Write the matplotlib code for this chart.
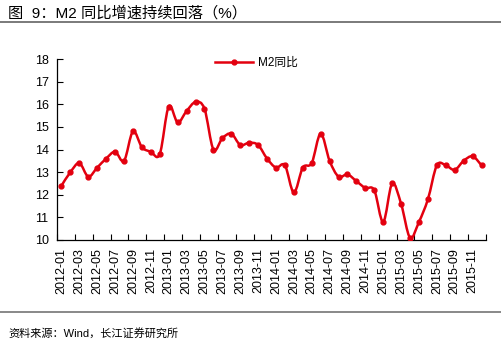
import matplotlib
matplotlib.use("Agg")
import matplotlib.pyplot as plt
from matplotlib.path import Path
from matplotlib.patches import PathPatch
import numpy as np

plt.rcParams['font.family'] = ['Liberation Sans', 'Noto Sans CJK SC', 'DejaVu Sans']

months = [f"{y}-{m:02d}" for y in range(2012, 2016) for m in range(1, 13)]
m2_yoy = [12.4, 13.0, 13.4, 12.8, 13.2, 13.6, 13.9, 13.5, 14.8, 14.1, 13.9, 13.8,
          15.9, 15.2, 15.7, 16.1, 15.8, 14.0, 14.5, 14.7, 14.2, 14.3, 14.2, 13.6,
          13.2, 13.3, 12.1, 13.2, 13.4, 14.7, 13.5, 12.8, 12.9, 12.6, 12.3, 12.2,
          10.8, 12.5, 11.6, 10.1, 10.8, 11.8, 13.3, 13.3, 13.1, 13.5, 13.7, 13.3]
series_name = "M2同比"
title = "图  9：M2 同比增速持续回落（%）"
source = "资料来源：Wind，长江证券研究所"
y_ticks = list(range(10, 19))

RED = "#E3000F"

fig = plt.figure(figsize=(5.02, 3.43), dpi=100)
ax = fig.add_axes([57/502, 1-240/343, (486-57)/502, (240-59)/343])

x = np.arange(len(m2_yoy))
y = np.array(m2_yoy, dtype=float)

# smooth line (Catmull-Rom as cubic Bezier path through data points)
pts = np.column_stack([x, y])
verts = [tuple(pts[0])]
codes = [Path.MOVETO]
n = len(pts)
for i in range(n - 1):
    p0 = pts[i - 1] if i > 0 else pts[i]
    p1 = pts[i]
    p2 = pts[i + 1]
    p3 = pts[i + 2] if i + 2 < n else pts[i + 1]
    c1 = p1 + (p2 - p0) / 6.0
    c2 = p2 - (p3 - p1) / 6.0
    verts += [tuple(c1), tuple(c2), tuple(p2)]
    codes += [Path.CURVE4] * 3
patch = PathPatch(Path(verts, codes), facecolor='none', edgecolor=RED, lw=1.8, zorder=3)
ax.add_patch(patch)
ax.plot(x, y, linestyle='none', marker='o', color=RED, markersize=3.5, zorder=4)
ax.plot([], [], color=RED, lw=1.8, marker='o', markersize=3.5, label=series_name)

ax.set_xlim(-0.5, len(m2_yoy) - 0.5)
ax.set_ylim(10, 18)
ax.set_yticks(y_ticks)
ax.set_yticklabels([str(v) for v in y_ticks], fontsize=9)

ax.set_xticks(x[::2])
ax.set_xticklabels(months[::2], rotation=90, fontsize=9)
ax.set_xticks(np.arange(-0.5, len(m2_yoy), 2), minor=True)
ax.tick_params(axis='x', which='major', length=0, pad=6)
ax.tick_params(axis='x', which='minor', direction='in', length=4, width=0.8)
ax.tick_params(axis='y', direction='in', length=4, width=0.8, pad=6)

for s in ['top', 'right']:
    ax.spines[s].set_visible(False)
for s in ['left', 'bottom']:
    ax.spines[s].set_linewidth(0.9)
    ax.spines[s].set_color('black')

leg = ax.legend(loc='upper center', bbox_to_anchor=(0.465, 1.07), frameon=False,
                fontsize=8.5, handlelength=3.2, handletextpad=0.4)

fig.text(8/502, 1-13/343, title, fontsize=11, va='center', ha='left')
fig.add_artist(plt.Line2D([0, 1], [1-22/343, 1-22/343], color='#6f6f6f', lw=1.3,
                          transform=fig.transFigure))
fig.add_artist(plt.Line2D([0, 1], [1-312/343, 1-312/343], color='#7f7f7f', lw=1.3,
                          transform=fig.transFigure))
fig.text(8/502, 1-333/343, source, fontsize=8, va='center', ha='left')

fig.savefig("out.png", dpi=100)
